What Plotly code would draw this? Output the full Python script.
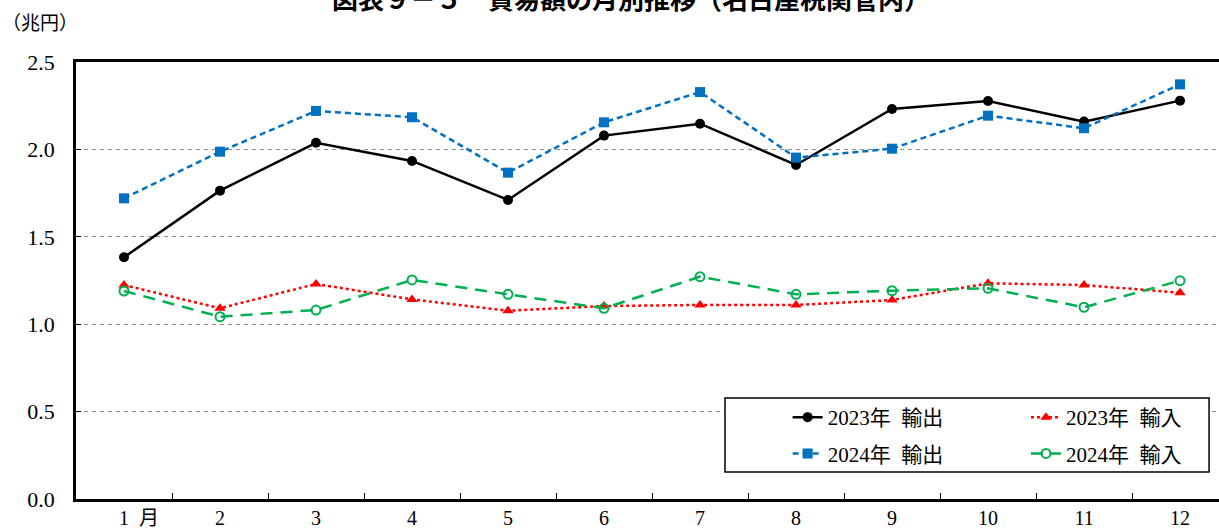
import plotly.graph_objects as go

# Monthly trade values (trillion yen), Nagoya customs district
months = ["\u00a0" * 6 + "1\u00a0\u00a0月", "2", "3", "4", "5", "6", "7", "8", "9", "10", "11", "12"]
export_2023 = [1.383, 1.764, 2.038, 1.934, 1.711, 2.079, 2.147, 1.911, 2.231, 2.277, 2.159, 2.279]
export_2024 = [1.720, 1.987, 2.220, 2.184, 1.867, 2.155, 2.328, 1.953, 2.004, 2.193, 2.121, 2.372]
import_2023 = [1.224, 1.091, 1.230, 1.142, 1.077, 1.104, 1.110, 1.110, 1.138, 1.234, 1.224, 1.180]
import_2024 = [1.190, 1.043, 1.081, 1.253, 1.171, 1.091, 1.272, 1.171, 1.192, 1.205, 1.097, 1.249]

y_ticks = [0.0, 0.5, 1.0, 1.5, 2.0, 2.5]
y_ticktext = ["0.0", "0.5", "1.0", "1.5", "2.0", "2.5"]

SERIF = "Liberation Serif, Noto Sans CJK JP, serif"
GOTHIC = "Noto Sans CJK JP, sans-serif"

fig = go.Figure()

fig.add_trace(go.Scatter(
    x=months, y=export_2023, name="2023年\u00a0\u00a0輸出", mode="lines+markers",
    line=dict(color="#000000", width=2.5),
    marker=dict(symbol="circle", size=10, color="#000000"),
    legend="legend",
))
fig.add_trace(go.Scatter(
    x=months, y=import_2023, name="2023年\u00a0\u00a0輸入", mode="lines+markers",
    line=dict(color="#FF0000", width=2.5, dash="dot"),
    marker=dict(symbol="triangle-up", size=10, color="#FF0000"),
    legend="legend2",
))
fig.add_trace(go.Scatter(
    x=months, y=export_2024, name="2024年\u00a0\u00a0輸出", mode="lines+markers",
    line=dict(color="#0070C0", width=2.5, dash="6px,4px"),
    marker=dict(symbol="square", size=10, color="#0070C0"),
    legend="legend3",
))
fig.add_trace(go.Scatter(
    x=months, y=import_2024, name="2024年\u00a0\u00a0輸入", mode="lines+markers",
    line=dict(color="#00B050", width=2.5, dash="12px,8px"),
    marker=dict(symbol="circle-open", size=9, color="#00B050",
                line=dict(width=2, color="#00B050")),
    legend="legend4",
))

# one single-entry legend per slot of the 2x2 key
def key(x, y):
    return dict(
        x=x, xanchor="left", y=y, yanchor="middle",
        bgcolor="rgba(0,0,0,0)", borderwidth=0,
        font=dict(family=SERIF, size=21, color="#000000"),
        itemwidth=30,
    )

col1, col2 = 0.6226, 0.8311
row1, row2 = 0.1865, 0.1035

fig.update_layout(
    width=1219, height=531,
    margin=dict(l=76, r=0, t=62, b=32, autoexpand=False),
    paper_bgcolor="white", plot_bgcolor="white",
    font=dict(family=SERIF, size=18, color="#000000"),
    showlegend=True,
    legend=key(col1, row1),
    legend2=key(col2, row1),
    legend3=key(col1, row2),
    legend4=key(col2, row2),
    xaxis=dict(
        type="category",
        range=[-0.5, 11.406],
        automargin=False,
        showgrid=False,
        showline=True, linecolor="#000000", linewidth=2.5,
        mirror=True,
        ticks="inside", ticklen=6, tickcolor="#000000", tickwidth=1,
        tickson="boundaries",
        tickfont=dict(family=SERIF, size=20),
        ticklabelstandoff=-1,
        fixedrange=True,
    ),
    yaxis=dict(
        range=[0, 2.5],
        automargin=False,
        tickvals=y_ticks, ticktext=y_ticktext,
        showgrid=True, gridcolor="#8C8C8C", gridwidth=1, griddash="4px,4px",
        showline=True, linecolor="#000000", linewidth=2.5,
        ticks="inside", ticklen=5, tickcolor="#000000", tickwidth=1,
        zeroline=False,
        tickfont=dict(family=SERIF, size=22),
        ticklabelstandoff=14,
        fixedrange=True,
    ),
    shapes=[
        # frame of the legend key
        dict(type="rect", xref="paper", yref="paper",
             x0=0.5678, x1=0.9913, y0=0.0618, y1=0.2311,
             fillcolor="white", line=dict(color="#000000", width=1.5),
             layer="above"),
    ],
    annotations=[
        dict(text="図表９－５　貿易額の月別推移（名古屋税関管内）",
             xref="paper", yref="paper", x=0.4855, y=1.148,
             xanchor="center", yanchor="middle", showarrow=False,
             font=dict(family=GOTHIC, size=26, color="#000000", weight="bold")),
        dict(text="（兆円）", xref="paper", yref="paper",
             x=-0.0665, y=1.087, xanchor="left", yanchor="middle",
             showarrow=False,
             font=dict(family=SERIF, size=19, color="#000000")),
    ],
)

fig.write_html("out.html")
